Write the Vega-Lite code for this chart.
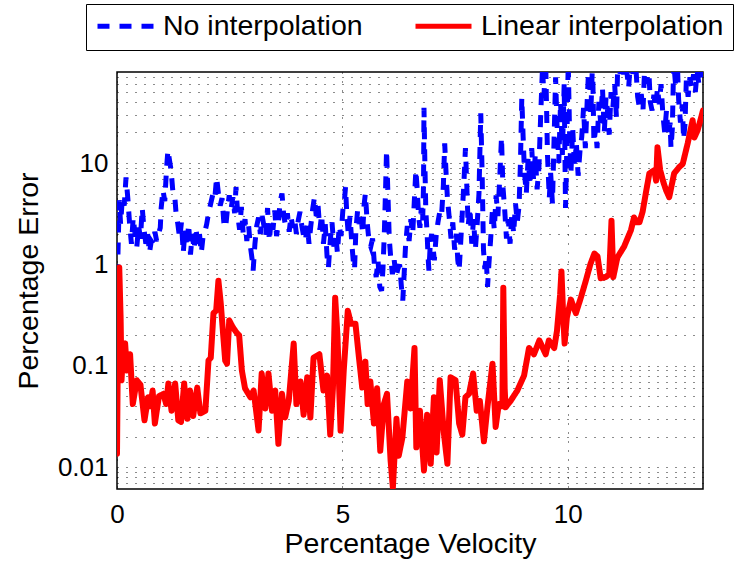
{
"$schema": "https://vega.github.io/schema/vega-lite/v6.json",
"width": 586, "height": 417,
"autosize": {"type": "none"},
"padding": {"left": 117, "top": 72, "right": 31, "bottom": 74},
"background": "white",
"config": {
 "font": "Liberation Sans",
 "view": {"stroke": "black", "strokeWidth": 1.5},
 "axis": {"labelFont": "Liberation Sans", "titleFont": "Liberation Sans", "labelFontSize": 26, "titleFontSize": 28.5, "titleFontWeight": "normal", "labelColor": "black", "titleColor": "black", "domain": false, "ticks": false, "grid": true, "gridColor": "black", "gridDash": [1, 8], "gridOpacity": 0.9, "gridWidth": 1}
},
"data": {"values": [
{"s":"N","x":0,"y":0.014},{"s":"N","x":0.02,"y":1.2},{"s":"N","x":0.05,"y":4.3},{"s":"N","x":0.08,"y":2.5},{"s":"N","x":0.12,"y":4.6},{"s":"N","x":0.16,"y":3.8},{"s":"N","x":0.2,"y":7.2},{"s":"N","x":0.24,"y":4.5},{"s":"N","x":0.28,"y":2.5},
{"s":"N","x":0.32,"y":1.6},{"s":"N","x":0.36,"y":2.9},{"s":"N","x":0.4,"y":2.0},{"s":"N","x":0.44,"y":1.5},{"s":"N","x":0.48,"y":2.4},{"s":"N","x":0.52,"y":1.8},{"s":"N","x":0.56,"y":3.6},{"s":"N","x":0.6,"y":2.2},{"s":"N","x":0.64,"y":1.6},{"s":"N","x":0.68,"y":2.0},{"s":"N","x":0.72,"y":1.3},{"s":"N","x":0.76,"y":1.7},{"s":"N","x":0.8,"y":1.6},{"s":"N","x":0.84,"y":2.1},{"s":"N","x":0.88,"y":1.7},{"s":"N","x":0.92,"y":2.0},{"s":"N","x":0.96,"y":2.3},{"s":"N","x":0.98,"y":3.6},
{"s":"N","x":1.02,"y":5.4},{"s":"N","x":1.06,"y":4.2},{"s":"N","x":1.1,"y":9},{"s":"N","x":1.13,"y":13.4},{"s":"N","x":1.16,"y":11},{"s":"N","x":1.2,"y":8.5},{"s":"N","x":1.24,"y":5.2},{"s":"N","x":1.28,"y":4.8},{"s":"N","x":1.31,"y":3.2},{"s":"N","x":1.35,"y":2.5},
{"s":"N","x":1.39,"y":1.8},{"s":"N","x":1.43,"y":2.6},{"s":"N","x":1.47,"y":1.3},{"s":"N","x":1.51,"y":2.2},{"s":"N","x":1.55,"y":1.5},{"s":"N","x":1.59,"y":2.5},{"s":"N","x":1.63,"y":1.25},{"s":"N","x":1.67,"y":2.0},{"s":"N","x":1.71,"y":1.4},{"s":"N","x":1.75,"y":2.3},{"s":"N","x":1.79,"y":1.6},{"s":"N","x":1.83,"y":2.0},{"s":"N","x":1.87,"y":1.3},{"s":"N","x":1.91,"y":1.9},{"s":"N","x":1.95,"y":2.1},
{"s":"N","x":1.99,"y":2.5},{"s":"N","x":2.03,"y":3.2},{"s":"N","x":2.08,"y":4.0},{"s":"N","x":2.13,"y":5.0},{"s":"N","x":2.17,"y":4.5},{"s":"N","x":2.21,"y":7.2},{"s":"N","x":2.25,"y":5},{"s":"N","x":2.29,"y":3.8},{"s":"N","x":2.33,"y":4.5},{"s":"N","x":2.37,"y":2.6},{"s":"N","x":2.41,"y":2.3},{"s":"N","x":2.45,"y":3.5},
{"s":"N","x":2.49,"y":4.8},{"s":"N","x":2.53,"y":3.5},{"s":"N","x":2.57,"y":4.6},{"s":"N","x":2.61,"y":3.2},{"s":"N","x":2.64,"y":5.8},{"s":"N","x":2.68,"y":3.0},{"s":"N","x":2.72,"y":2.2},{"s":"N","x":2.76,"y":3.7},{"s":"N","x":2.8,"y":2.0},{"s":"N","x":2.84,"y":2.8},{"s":"N","x":2.88,"y":1.7},{"s":"N","x":2.92,"y":2.4},{"s":"N","x":2.96,"y":1.5},{"s":"N","x":3.0,"y":1.1},{"s":"N","x":3.02,"y":0.87},{"s":"N","x":3.06,"y":1.6},{"s":"N","x":3.1,"y":2.4},{"s":"N","x":3.14,"y":2.9},{"s":"N","x":3.18,"y":2.0},{"s":"N","x":3.22,"y":3.0},{"s":"N","x":3.26,"y":2.4},{"s":"N","x":3.3,"y":1.9},
{"s":"N","x":3.34,"y":3.6},{"s":"N","x":3.38,"y":1.7},{"s":"N","x":3.42,"y":2.8},{"s":"N","x":3.46,"y":2.2},{"s":"N","x":3.5,"y":3.4},{"s":"N","x":3.54,"y":1.9},{"s":"N","x":3.58,"y":2.6},{"s":"N","x":3.62,"y":4.2},{"s":"N","x":3.66,"y":5.0},{"s":"N","x":3.7,"y":3.0},
{"s":"N","x":3.74,"y":2.4},{"s":"N","x":3.78,"y":3.2},{"s":"N","x":3.82,"y":2.1},{"s":"N","x":3.86,"y":3.0},{"s":"N","x":3.9,"y":2.3},{"s":"N","x":3.94,"y":2.8},{"s":"N","x":3.98,"y":2.0},{"s":"N","x":4.02,"y":2.7},{"s":"N","x":4.06,"y":3.3},{"s":"N","x":4.1,"y":2.4},
{"s":"N","x":4.14,"y":1.9},{"s":"N","x":4.18,"y":1.7},{"s":"N","x":4.22,"y":2.5},{"s":"N","x":4.26,"y":1.6},{"s":"N","x":4.3,"y":2.4},{"s":"N","x":4.34,"y":3.5},{"s":"N","x":4.38,"y":4.6},{"s":"N","x":4.42,"y":3.0},
{"s":"N","x":4.46,"y":3.8},{"s":"N","x":4.5,"y":2.2},{"s":"N","x":4.54,"y":3.1},{"s":"N","x":4.58,"y":1.6},{"s":"N","x":4.62,"y":2.5},{"s":"N","x":4.66,"y":1.2},{"s":"N","x":4.69,"y":0.93},{"s":"N","x":4.73,"y":1.7},{"s":"N","x":4.77,"y":2.6},{"s":"N","x":4.81,"y":1.5},{"s":"N","x":4.85,"y":2.0},
{"s":"N","x":4.89,"y":1.3},{"s":"N","x":4.93,"y":2.4},{"s":"N","x":4.97,"y":1.9},{"s":"N","x":5.01,"y":3.4},{"s":"N","x":5.05,"y":4.5},{"s":"N","x":5.07,"y":5.8},{"s":"N","x":5.1,"y":3.0},
{"s":"N","x":5.13,"y":2.0},{"s":"N","x":5.17,"y":3.0},{"s":"N","x":5.21,"y":1.6},{"s":"N","x":5.24,"y":1.1},{"s":"N","x":5.27,"y":0.9},{"s":"N","x":5.3,"y":2.2},{"s":"N","x":5.34,"y":3.5},{"s":"N","x":5.37,"y":2.5},
{"s":"N","x":5.41,"y":3.2},{"s":"N","x":5.45,"y":2.0},{"s":"N","x":5.48,"y":3.8},{"s":"N","x":5.51,"y":5.0},{"s":"N","x":5.55,"y":2.6},{"s":"N","x":5.59,"y":1.7},{"s":"N","x":5.63,"y":1.5},{"s":"N","x":5.67,"y":1.8},
{"s":"N","x":5.71,"y":1.0},{"s":"N","x":5.75,"y":0.75},{"s":"N","x":5.79,"y":1.1},{"s":"N","x":5.83,"y":0.6},{"s":"N","x":5.87,"y":0.55},{"s":"N","x":5.9,"y":0.9},
{"s":"N","x":5.93,"y":2.0},{"s":"N","x":5.96,"y":6.0},{"s":"N","x":5.98,"y":13.4},{"s":"N","x":6.01,"y":5.0},{"s":"N","x":6.04,"y":1.8},
{"s":"N","x":6.07,"y":1.2},{"s":"N","x":6.11,"y":0.8},{"s":"N","x":6.15,"y":1.1},{"s":"N","x":6.19,"y":0.75},{"s":"N","x":6.23,"y":0.9},{"s":"N","x":6.27,"y":1.0},{"s":"N","x":6.31,"y":0.6},{"s":"N","x":6.34,"y":0.44},{"s":"N","x":6.37,"y":0.8},{"s":"N","x":6.4,"y":1.5},
{"s":"N","x":6.44,"y":2.4},{"s":"N","x":6.48,"y":1.7},{"s":"N","x":6.52,"y":2.8},{"s":"N","x":6.56,"y":2.0},{"s":"N","x":6.6,"y":4.6},{"s":"N","x":6.63,"y":8.5},{"s":"N","x":6.66,"y":5.5},
{"s":"N","x":6.69,"y":3.0},{"s":"N","x":6.72,"y":2.3},{"s":"N","x":6.75,"y":3.6},{"s":"N","x":6.78,"y":2.6},{"s":"N","x":6.8,"y":6},{"s":"N","x":6.81,"y":35},{"s":"N","x":6.83,"y":10},{"s":"N","x":6.85,"y":3.5},
{"s":"N","x":6.88,"y":2.0},{"s":"N","x":6.9,"y":1.2},{"s":"N","x":6.92,"y":0.87},{"s":"N","x":6.95,"y":1.6},{"s":"N","x":6.98,"y":2.0},{"s":"N","x":7.01,"y":1.5},{"s":"N","x":7.04,"y":1.1},{"s":"N","x":7.08,"y":1.9},{"s":"N","x":7.12,"y":2.6},{"s":"N","x":7.16,"y":3.3},
{"s":"N","x":7.2,"y":3.0},{"s":"N","x":7.24,"y":6},{"s":"N","x":7.27,"y":15.6},{"s":"N","x":7.3,"y":8},{"s":"N","x":7.33,"y":4.5},
{"s":"N","x":7.37,"y":2.9},{"s":"N","x":7.41,"y":1.8},{"s":"N","x":7.45,"y":2.6},{"s":"N","x":7.49,"y":1.4},{"s":"N","x":7.53,"y":2.0},{"s":"N","x":7.56,"y":1.1},{"s":"N","x":7.59,"y":0.87},{"s":"N","x":7.62,"y":1.5},
{"s":"N","x":7.66,"y":3.2},{"s":"N","x":7.7,"y":7},{"s":"N","x":7.73,"y":14},{"s":"N","x":7.76,"y":6},
{"s":"N","x":7.79,"y":2.4},{"s":"N","x":7.83,"y":3.6},{"s":"N","x":7.87,"y":1.6},{"s":"N","x":7.91,"y":2.8},{"s":"N","x":7.95,"y":1.4},{"s":"N","x":7.99,"y":2.5},
{"s":"N","x":8.03,"y":5},{"s":"N","x":8.07,"y":31},{"s":"N","x":8.1,"y":8},
{"s":"N","x":8.13,"y":1.4},{"s":"N","x":8.16,"y":0.9},{"s":"N","x":8.19,"y":1.2},{"s":"N","x":8.22,"y":0.6},{"s":"N","x":8.25,"y":1.0},
{"s":"N","x":8.29,"y":1.8},{"s":"N","x":8.33,"y":3.5},{"s":"N","x":8.37,"y":2.2},{"s":"N","x":8.41,"y":4.8},
{"s":"N","x":8.45,"y":3.0},{"s":"N","x":8.49,"y":7},{"s":"N","x":8.53,"y":18},{"s":"N","x":8.56,"y":6},
{"s":"N","x":8.6,"y":3.5},{"s":"N","x":8.64,"y":1.8},{"s":"N","x":8.68,"y":2.8},{"s":"N","x":8.72,"y":1.6},{"s":"N","x":8.76,"y":3.2},{"s":"N","x":8.8,"y":2.0},{"s":"N","x":8.84,"y":4.0},{"s":"N","x":8.88,"y":2.6},{"s":"N","x":8.92,"y":3.8},
{"s":"N","x":8.95,"y":10},{"s":"N","x":8.98,"y":44},{"s":"N","x":9.01,"y":18},
{"s":"N","x":9.04,"y":8},{"s":"N","x":9.08,"y":5},{"s":"N","x":9.12,"y":11},{"s":"N","x":9.16,"y":6.5},{"s":"N","x":9.2,"y":14},{"s":"N","x":9.24,"y":7},{"s":"N","x":9.28,"y":12},{"s":"N","x":9.32,"y":5.5},{"s":"N","x":9.36,"y":9},
{"s":"N","x":9.4,"y":30},{"s":"N","x":9.44,"y":90},{"s":"N","x":9.47,"y":45},{"s":"N","x":9.51,"y":100},
{"s":"N","x":9.55,"y":12},{"s":"N","x":9.59,"y":4.5},{"s":"N","x":9.62,"y":8},{"s":"N","x":9.66,"y":4},
{"s":"N","x":9.7,"y":20},{"s":"N","x":9.73,"y":70},{"s":"N","x":9.76,"y":25},{"s":"N","x":9.8,"y":10},{"s":"N","x":9.84,"y":40},{"s":"N","x":9.88,"y":12},{"s":"N","x":9.92,"y":60},{"s":"N","x":9.95,"y":3.6},{"s":"N","x":9.98,"y":15},
{"s":"N","x":10.01,"y":100},{"s":"N","x":10.04,"y":20},{"s":"N","x":10.07,"y":8},
{"s":"N","x":10.11,"y":22},{"s":"N","x":10.15,"y":9},{"s":"N","x":10.19,"y":16},{"s":"N","x":10.23,"y":7.5},{"s":"N","x":10.27,"y":13},
{"s":"N","x":10.31,"y":18},{"s":"N","x":10.35,"y":35},{"s":"N","x":10.39,"y":14},{"s":"N","x":10.43,"y":40},{"s":"N","x":10.47,"y":100},{"s":"N","x":10.51,"y":30},{"s":"N","x":10.55,"y":100},{"s":"N","x":10.58,"y":16},
{"s":"N","x":10.62,"y":22},{"s":"N","x":10.65,"y":14},
{"s":"N","x":10.69,"y":40},{"s":"N","x":10.73,"y":25},{"s":"N","x":10.77,"y":55},{"s":"N","x":10.81,"y":20},{"s":"N","x":10.85,"y":45},{"s":"N","x":10.89,"y":30},{"s":"N","x":10.92,"y":19},{"s":"N","x":10.96,"y":50},{"s":"N","x":11.0,"y":35},{"s":"N","x":11.04,"y":60},{"s":"N","x":11.08,"y":28},
{"s":"N","x":11.11,"y":100},{"s":"N","x":11.15,"y":70},{"s":"N","x":11.19,"y":100},{"s":"N","x":11.23,"y":75},{"s":"N","x":11.27,"y":100},{"s":"N","x":11.31,"y":80},{"s":"N","x":11.35,"y":55},{"s":"N","x":11.39,"y":100},{"s":"N","x":11.43,"y":70},{"s":"N","x":11.47,"y":100},{"s":"N","x":11.51,"y":90},
{"s":"N","x":11.55,"y":45},{"s":"N","x":11.59,"y":35},{"s":"N","x":11.63,"y":48},{"s":"N","x":11.67,"y":34},{"s":"N","x":11.71,"y":100},{"s":"N","x":11.75,"y":60},{"s":"N","x":11.79,"y":100},{"s":"N","x":11.83,"y":40},{"s":"N","x":11.87,"y":33},{"s":"N","x":11.91,"y":47},{"s":"N","x":11.95,"y":35},{"s":"N","x":11.99,"y":55},
{"s":"N","x":12.03,"y":38},{"s":"N","x":12.07,"y":60},{"s":"N","x":12.11,"y":30},{"s":"N","x":12.15,"y":20},{"s":"N","x":12.19,"y":33},{"s":"N","x":12.23,"y":18},{"s":"N","x":12.27,"y":25},{"s":"N","x":12.29,"y":14},{"s":"N","x":12.32,"y":22},
{"s":"N","x":12.35,"y":100},{"s":"N","x":12.39,"y":60},{"s":"N","x":12.43,"y":100},{"s":"N","x":12.46,"y":42},{"s":"N","x":12.5,"y":25},{"s":"N","x":12.54,"y":38},{"s":"N","x":12.57,"y":17},{"s":"N","x":12.6,"y":24},
{"s":"N","x":12.63,"y":65},{"s":"N","x":12.67,"y":45},{"s":"N","x":12.71,"y":70},{"s":"N","x":12.75,"y":55},{"s":"N","x":12.79,"y":75},{"s":"N","x":12.83,"y":50},{"s":"N","x":12.87,"y":80},{"s":"N","x":12.91,"y":60},{"s":"N","x":12.95,"y":100},{"s":"N","x":13.0,"y":70},
{"s":"L","x":0,"y":0.0136},{"s":"L","x":0.03,"y":0.5},{"s":"L","x":0.05,"y":0.93},{"s":"L","x":0.08,"y":0.3},{"s":"L","x":0.1,"y":0.072},{"s":"L","x":0.14,"y":0.15},{"s":"L","x":0.18,"y":0.166},{"s":"L","x":0.22,"y":0.09},{"s":"L","x":0.29,"y":0.13},{"s":"L","x":0.35,"y":0.042},{"s":"L","x":0.44,"y":0.072},{"s":"L","x":0.52,"y":0.065},{"s":"L","x":0.61,"y":0.029},{"s":"L","x":0.69,"y":0.049},{"s":"L","x":0.74,"y":0.04},{"s":"L","x":0.79,"y":0.057},{"s":"L","x":0.84,"y":0.027},{"s":"L","x":0.93,"y":0.05},
{"s":"L","x":1.03,"y":0.053},{"s":"L","x":1.09,"y":0.042},{"s":"L","x":1.14,"y":0.067},{"s":"L","x":1.21,"y":0.036},{"s":"L","x":1.29,"y":0.067},{"s":"L","x":1.36,"y":0.029},{"s":"L","x":1.42,"y":0.028},{"s":"L","x":1.49,"y":0.067},{"s":"L","x":1.56,"y":0.03},{"s":"L","x":1.62,"y":0.057},{"s":"L","x":1.69,"y":0.032},{"s":"L","x":1.78,"y":0.061},{"s":"L","x":1.85,"y":0.034},{"s":"L","x":1.96,"y":0.036},
{"s":"L","x":2.03,"y":0.113},{"s":"L","x":2.08,"y":0.12},{"s":"L","x":2.14,"y":0.33},{"s":"L","x":2.2,"y":0.35},{"s":"L","x":2.25,"y":0.69},{"s":"L","x":2.3,"y":0.42},{"s":"L","x":2.4,"y":0.113},{"s":"L","x":2.44,"y":0.105},{"s":"L","x":2.49,"y":0.28},{"s":"L","x":2.57,"y":0.24},{"s":"L","x":2.66,"y":0.21},{"s":"L","x":2.71,"y":0.2},{"s":"L","x":2.77,"y":0.09},{"s":"L","x":2.84,"y":0.06},{"s":"L","x":2.96,"y":0.049},
{"s":"L","x":3.03,"y":0.057},{"s":"L","x":3.08,"y":0.038},{"s":"L","x":3.14,"y":0.023},{"s":"L","x":3.21,"y":0.084},{"s":"L","x":3.29,"y":0.038},{"s":"L","x":3.36,"y":0.084},{"s":"L","x":3.44,"y":0.036},{"s":"L","x":3.51,"y":0.057},{"s":"L","x":3.58,"y":0.017},{"s":"L","x":3.66,"y":0.053},{"s":"L","x":3.73,"y":0.031},{"s":"L","x":3.81,"y":0.045},{"s":"L","x":3.92,"y":0.166},{"s":"L","x":3.98,"y":0.042},
{"s":"L","x":4.07,"y":0.07},{"s":"L","x":4.14,"y":0.033},{"s":"L","x":4.22,"y":0.077},{"s":"L","x":4.29,"y":0.031},{"s":"L","x":4.36,"y":0.12},{"s":"L","x":4.49,"y":0.13},{"s":"L","x":4.58,"y":0.057},{"s":"L","x":4.66,"y":0.08},{"s":"L","x":4.73,"y":0.021},{"s":"L","x":4.79,"y":0.06},{"s":"L","x":4.84,"y":0.47},{"s":"L","x":4.89,"y":0.2},{"s":"L","x":4.96,"y":0.023},
{"s":"L","x":5.03,"y":0.09},{"s":"L","x":5.12,"y":0.35},{"s":"L","x":5.19,"y":0.26},{"s":"L","x":5.29,"y":0.26},{"s":"L","x":5.36,"y":0.13},{"s":"L","x":5.44,"y":0.061},{"s":"L","x":5.51,"y":0.11},{"s":"L","x":5.56,"y":0.042},{"s":"L","x":5.62,"y":0.07},{"s":"L","x":5.7,"y":0.027},{"s":"L","x":5.77,"y":0.06},{"s":"L","x":5.84,"y":0.0145},{"s":"L","x":5.92,"y":0.042},{"s":"L","x":5.99,"y":0.053},
{"s":"L","x":6.07,"y":0.0116},{"s":"L","x":6.12,"y":0.0063},{"s":"L","x":6.2,"y":0.03},{"s":"L","x":6.25,"y":0.013},{"s":"L","x":6.33,"y":0.0195},{"s":"L","x":6.44,"y":0.07},{"s":"L","x":6.51,"y":0.038},{"s":"L","x":6.6,"y":0.15},{"s":"L","x":6.64,"y":0.0157},{"s":"L","x":6.72,"y":0.036},{"s":"L","x":6.81,"y":0.0093},{"s":"L","x":6.88,"y":0.033},{"s":"L","x":6.96,"y":0.0108},
{"s":"L","x":7.03,"y":0.049},{"s":"L","x":7.09,"y":0.014},{"s":"L","x":7.16,"y":0.072},{"s":"L","x":7.25,"y":0.022},{"s":"L","x":7.33,"y":0.0108},{"s":"L","x":7.4,"y":0.077},{"s":"L","x":7.51,"y":0.072},{"s":"L","x":7.59,"y":0.027},{"s":"L","x":7.66,"y":0.021},{"s":"L","x":7.73,"y":0.049},{"s":"L","x":7.81,"y":0.053},{"s":"L","x":7.9,"y":0.084},{"s":"L","x":7.98,"y":0.036},
{"s":"L","x":8.05,"y":0.045},{"s":"L","x":8.14,"y":0.018},{"s":"L","x":8.22,"y":0.04},{"s":"L","x":8.33,"y":0.105},{"s":"L","x":8.4,"y":0.025},{"s":"L","x":8.47,"y":0.042},{"s":"L","x":8.55,"y":0.04},{"s":"L","x":8.57,"y":0.59},{"s":"L","x":8.6,"y":0.06},{"s":"L","x":8.62,"y":0.039},{"s":"L","x":8.73,"y":0.045},{"s":"L","x":8.88,"y":0.057},
{"s":"L","x":9.03,"y":0.08},{"s":"L","x":9.14,"y":0.15},{"s":"L","x":9.25,"y":0.13},{"s":"L","x":9.37,"y":0.178},{"s":"L","x":9.51,"y":0.13},{"s":"L","x":9.58,"y":0.178},{"s":"L","x":9.7,"y":0.15},{"s":"L","x":9.76,"y":0.22},{"s":"L","x":9.83,"y":0.5},{"s":"L","x":9.86,"y":0.85},{"s":"L","x":9.9,"y":0.3},{"s":"L","x":9.93,"y":0.166},{"s":"L","x":9.98,"y":0.3},
{"s":"L","x":10.07,"y":0.45},{"s":"L","x":10.18,"y":0.33},{"s":"L","x":10.29,"y":0.47},{"s":"L","x":10.4,"y":0.69},{"s":"L","x":10.5,"y":1.0},{"s":"L","x":10.59,"y":1.28},{"s":"L","x":10.66,"y":1.2},{"s":"L","x":10.73,"y":0.73},{"s":"L","x":10.84,"y":0.75},{"s":"L","x":10.92,"y":0.8},{"s":"L","x":10.97,"y":2.7},
{"s":"L","x":11.01,"y":0.75},{"s":"L","x":11.1,"y":1.17},{"s":"L","x":11.25,"y":1.5},{"s":"L","x":11.4,"y":2.17},{"s":"L","x":11.47,"y":2.9},{"s":"L","x":11.53,"y":2.6},{"s":"L","x":11.59,"y":2.6},{"s":"L","x":11.66,"y":3.3},{"s":"L","x":11.73,"y":5},{"s":"L","x":11.81,"y":7.9},{"s":"L","x":11.92,"y":8.5},{"s":"L","x":11.96,"y":6.7},{"s":"L","x":11.99,"y":14.3},
{"s":"L","x":12.05,"y":8.5},{"s":"L","x":12.12,"y":6.5},{"s":"L","x":12.18,"y":5.4},{"s":"L","x":12.25,"y":4.6},{"s":"L","x":12.36,"y":7.9},{"s":"L","x":12.47,"y":9.1},{"s":"L","x":12.55,"y":9.8},{"s":"L","x":12.66,"y":15.6},{"s":"L","x":12.77,"y":26.4},{"s":"L","x":12.81,"y":17.9},{"s":"L","x":12.88,"y":21},{"s":"L","x":12.96,"y":28.2},{"s":"L","x":13.0,"y":33}
]},
"encoding": {
 "x": {"field": "x", "type": "quantitative", "scale": {"domain": [0, 13], "nice": false, "zero": false}, "axis": {"values": [0, 5, 10], "title": "Percentage Velocity", "labelFlush": false, "labelPadding": 12, "titlePadding": 2}},
 "y": {"field": "y", "type": "quantitative", "scale": {"type": "log", "domain": [0.0061, 79], "nice": false}, "axis": {"values": [0.007,0.008,0.009,0.01,0.02,0.03,0.04,0.05,0.06,0.07,0.08,0.09,0.1,0.2,0.3,0.4,0.5,0.6,0.7,0.8,0.9,1,2,3,4,5,6,7,8,9,10,20,30,40,50,60,70], "labelExpr": "(datum.value == 0.01 || datum.value == 0.1 || datum.value == 1 || datum.value == 10) ? '' + datum.value : ''", "title": "Percentage Error", "labelPadding": 9, "titlePadding": 14}},
 "color": {"field": "s", "type": "nominal", "scale": {"domain": ["N", "L"], "range": ["#0000ff", "#ff0000"]}, "legend": {"orient": "none", "legendX": -31, "legendY": -68, "direction": "horizontal", "title": null, "symbolType": "stroke", "symbolSize": 3136, "symbolStrokeWidth": 5, "clipHeight": 26, "labelFontSize": 28.5, "labelFont": "Liberation Sans", "labelColor": "black", "strokeColor": "black", "fillColor": "white", "padding": 9, "columnPadding": 50, "labelOffset": 7, "labelLimit": 400, "labelExpr": "datum.label == 'N' ? 'No interpolation' : 'Linear interpolation'"}},
 "strokeDash": {"field": "s", "type": "nominal", "scale": {"domain": ["N", "L"], "range": [[12, 10], [1, 0]]}, "legend": {"orient": "none", "legendX": -31, "legendY": -68, "direction": "horizontal", "title": null, "symbolType": "stroke", "symbolSize": 3136, "symbolStrokeWidth": 5, "clipHeight": 26, "labelFontSize": 28.5, "labelFont": "Liberation Sans", "labelColor": "black", "strokeColor": "black", "fillColor": "white", "padding": 9, "columnPadding": 50, "labelOffset": 7, "labelLimit": 400, "labelExpr": "datum.label == 'N' ? 'No interpolation' : 'Linear interpolation'"}}
},
"layer": [
 {"transform": [{"filter": "datum.s == 'N'"}], "mark": {"type": "line", "strokeWidth": 5, "clip": true, "strokeCap": "butt"}},
 {"transform": [{"filter": "datum.s == 'L'"}], "mark": {"type": "line", "strokeWidth": 6, "clip": true, "strokeJoin": "round", "strokeCap": "round"}}
]
}
